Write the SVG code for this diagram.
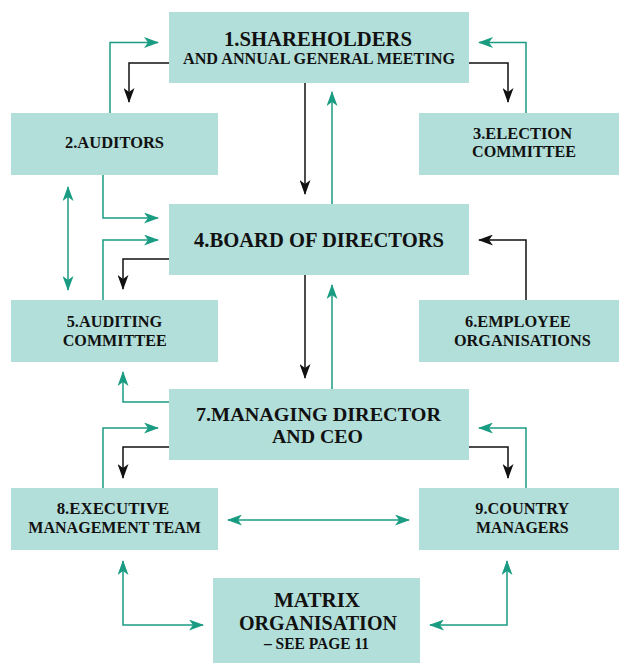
<svg xmlns="http://www.w3.org/2000/svg" width="619" height="663" viewBox="0 0 619 663">
<style>
.box{fill:#b3dfda;}
.t{font-family:"Liberation Serif","DejaVu Serif",serif;font-weight:bold;fill:#111;}
.big{font-size:21px;}
.mid{font-size:17px;}
.sm{font-size:17px;}
.g{fill:none;stroke:#1a9c82;stroke-width:1.5;}
.k{fill:none;stroke:#111;stroke-width:1.5;}
</style>
<defs>
<marker id="ag" viewBox="0 0 15 11" refX="14" refY="5.5" markerWidth="15" markerHeight="11" markerUnits="userSpaceOnUse" orient="auto-start-reverse">
<path d="M0,0 L15,5.5 L0,11 L4,5.5 Z" fill="#1a9c82"/>
</marker>
<marker id="ak" viewBox="0 0 15 11" refX="14" refY="5.5" markerWidth="15" markerHeight="11" markerUnits="userSpaceOnUse" orient="auto-start-reverse">
<path d="M0,0 L15,5.5 L0,11 L4,5.5 Z" fill="#111"/>
</marker>
</defs>
<rect width="619" height="663" fill="#fff"/>
<g id="connectors">
<path class="g" d="M110,113 V42.5 H158" marker-end="url(#ag)"/>
<path class="k" d="M169,63 H129 V102" marker-end="url(#ak)"/>
<path class="k" d="M305,83 V194" marker-end="url(#ak)"/>
<path class="g" d="M332,204 V92" marker-end="url(#ag)"/>
<path class="g" d="M526,113 V42.5 H479" marker-end="url(#ag)"/>
<path class="k" d="M469,63 H508 V102" marker-end="url(#ak)"/>
<path class="g" d="M103,175 V218 H158" marker-end="url(#ag)"/>
<path class="g" d="M103,300 V240 H158" marker-end="url(#ag)"/>
<path class="k" d="M169,259 H123 V289" marker-end="url(#ak)"/>
<path class="g" d="M68,187 V290" marker-start="url(#ag)" marker-end="url(#ag)"/>
<path class="k" d="M305,275 V378" marker-end="url(#ak)"/>
<path class="g" d="M332,389 V285" marker-end="url(#ag)"/>
<path class="k" d="M526,300 V240 H479" marker-end="url(#ak)"/>
<path class="g" d="M169,402 H123 V372" marker-end="url(#ag)"/>
<path class="g" d="M103,488 V428 H158" marker-end="url(#ag)"/>
<path class="k" d="M169,447 H123 V478" marker-end="url(#ak)"/>
<path class="g" d="M526,488 V428 H479" marker-end="url(#ag)"/>
<path class="k" d="M469,447 H508 V478" marker-end="url(#ak)"/>
<path class="g" d="M228,520 H409" marker-start="url(#ag)" marker-end="url(#ag)"/>
<path class="g" d="M123,561 V625 H203" marker-start="url(#ag)" marker-end="url(#ag)"/>
<path class="g" d="M430,625 H507 V561" marker-start="url(#ag)" marker-end="url(#ag)"/>
</g>
<g id="n1">
<rect class="box" x="169" y="12" width="300" height="71"/>
<text class="t big" x="224" y="45.5" textLength="188" lengthAdjust="spacingAndGlyphs">1.SHAREHOLDERS</text>
<text class="t mid" x="183" y="64" textLength="272" lengthAdjust="spacingAndGlyphs">AND ANNUAL GENERAL MEETING</text>
</g>
<g id="n2">
<rect class="box" x="11" y="113" width="207" height="62"/>
<text class="t sm" x="65" y="148.3" textLength="99" lengthAdjust="spacingAndGlyphs">2.AUDITORS</text>
</g>
<g id="n3">
<rect class="box" x="419" y="113" width="200" height="62"/>
<text class="t sm" x="473" y="139.3" textLength="99" lengthAdjust="spacingAndGlyphs">3.ELECTION</text>
<text class="t sm" x="472" y="157.3" textLength="104" lengthAdjust="spacingAndGlyphs">COMMITTEE</text>
</g>
<g id="n4">
<rect class="box" x="169" y="204" width="300" height="71"/>
<text class="t big" x="194" y="246.7" textLength="250" lengthAdjust="spacingAndGlyphs">4.BOARD OF DIRECTORS</text>
</g>
<g id="n5">
<rect class="box" x="11" y="300" width="207" height="62"/>
<text class="t sm" x="66.7" y="327.3" textLength="95.6" lengthAdjust="spacingAndGlyphs">5.AUDITING</text>
<text class="t sm" x="62.7" y="346" textLength="104" lengthAdjust="spacingAndGlyphs">COMMITTEE</text>
</g>
<g id="n6">
<rect class="box" x="419" y="300" width="200" height="62"/>
<text class="t sm" x="465" y="327.3" textLength="105.7" lengthAdjust="spacingAndGlyphs">6.EMPLOYEE</text>
<text class="t sm" x="454" y="346" textLength="136.7" lengthAdjust="spacingAndGlyphs">ORGANISATIONS</text>
</g>
<g id="n7">
<rect class="box" x="169" y="389" width="300" height="71"/>
<text class="t" style="font-size:19px" x="196" y="420.8" textLength="245" lengthAdjust="spacingAndGlyphs">7.MANAGING DIRECTOR</text>
<text class="t" style="font-size:19px" x="272" y="442.8" textLength="91" lengthAdjust="spacingAndGlyphs">AND CEO</text>
</g>
<g id="n8">
<rect class="box" x="11" y="488" width="207" height="62"/>
<text class="t sm" x="56.7" y="514.3" textLength="112.6" lengthAdjust="spacingAndGlyphs">8.EXECUTIVE</text>
<text class="t sm" x="28.3" y="533.3" textLength="172.7" lengthAdjust="spacingAndGlyphs">MANAGEMENT TEAM</text>
</g>
<g id="n9">
<rect class="box" x="419" y="488" width="200" height="62"/>
<text class="t sm" x="475.3" y="514.3" textLength="94" lengthAdjust="spacingAndGlyphs">9.COUNTRY</text>
<text class="t sm" x="476" y="533.3" textLength="92.7" lengthAdjust="spacingAndGlyphs">MANAGERS</text>
</g>
<g id="n10">
<rect class="box" x="213" y="578" width="207" height="85"/>
<text class="t" style="font-size:20px" x="274" y="607.3" textLength="86" lengthAdjust="spacingAndGlyphs">MATRIX</text>
<text class="t" style="font-size:20px" x="239" y="629.7" textLength="158" lengthAdjust="spacingAndGlyphs">ORGANISATION</text>
<text class="t" style="font-size:16px" x="264" y="648.7" textLength="105" lengthAdjust="spacingAndGlyphs">– SEE PAGE 11</text>
</g>
</svg>
